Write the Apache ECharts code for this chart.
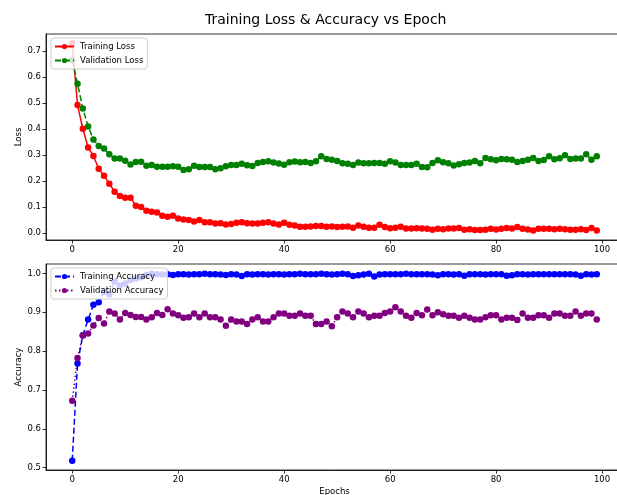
<!DOCTYPE html>
<html>
<head>
<meta charset="utf-8">
<script src="https://cdn.jsdelivr.net/npm/echarts@6/dist/echarts.min.js"></script>
<style>
html,body{margin:0;padding:0;background:#fff;}
#c{width:617px;height:495px;}
</style>
</head>
<body>
<div id="c"></div>
<script>
// ---- data ----
const epochs = Array.from({length: 100}, (_, i) => i);
const trainLoss = [0.729,0.492,0.401,0.329,0.296,0.247,0.220,0.190,0.159,0.143,
0.136,0.136,0.105,0.100,0.086,0.082,0.079,0.067,0.063,0.067,
0.056,0.052,0.050,0.045,0.050,0.042,0.042,0.037,0.038,0.033,
0.035,0.040,0.042,0.038,0.037,0.037,0.040,0.042,0.037,0.033,
0.040,0.032,0.029,0.024,0.024,0.025,0.027,0.027,0.024,0.025,
0.023,0.024,0.025,0.021,0.029,0.024,0.021,0.021,0.032,0.023,
0.019,0.021,0.024,0.018,0.018,0.019,0.018,0.017,0.013,0.017,
0.015,0.018,0.018,0.020,0.013,0.015,0.012,0.012,0.013,0.017,
0.014,0.017,0.020,0.018,0.023,0.017,0.014,0.010,0.017,0.017,
0.017,0.015,0.017,0.015,0.013,0.013,0.015,0.012,0.020,0.010];
const valLoss = [0.665,0.574,0.479,0.410,0.360,0.335,0.325,0.303,0.287,0.287,
0.278,0.264,0.273,0.274,0.259,0.262,0.255,0.255,0.255,0.257,
0.255,0.242,0.245,0.259,0.254,0.254,0.254,0.245,0.249,0.257,
0.262,0.262,0.266,0.261,0.258,0.269,0.273,0.276,0.271,0.267,
0.263,0.272,0.275,0.272,0.273,0.269,0.276,0.295,0.285,0.282,
0.277,0.268,0.266,0.262,0.271,0.268,0.268,0.269,0.269,0.266,
0.276,0.271,0.262,0.262,0.262,0.266,0.254,0.253,0.269,0.280,
0.272,0.268,0.260,0.265,0.269,0.271,0.277,0.268,0.289,0.284,
0.280,0.285,0.284,0.282,0.273,0.277,0.282,0.289,0.277,0.281,
0.295,0.284,0.288,0.299,0.285,0.287,0.287,0.303,0.282,0.295];
const trainAcc = [0.518,0.768,0.841,0.881,0.919,0.926,0.953,0.946,0.979,0.969,
0.974,0.983,0.987,0.990,0.996,0.999,0.998,0.997,0.998,0.996,
0.998,0.998,0.997,0.998,0.998,0.999,0.998,0.998,0.997,0.996,
0.998,0.997,0.993,0.998,0.997,0.998,0.998,0.997,0.998,0.998,
0.997,0.998,0.998,0.999,0.998,0.998,0.998,0.999,0.998,0.997,
0.998,0.999,0.998,0.993,0.995,0.997,0.999,0.992,0.997,0.998,
0.998,0.998,0.998,0.999,0.998,0.998,0.998,0.998,0.997,0.995,
0.998,0.998,0.997,0.998,0.994,0.998,0.998,0.998,0.997,0.998,
0.998,0.998,0.994,0.995,0.998,0.998,0.997,0.998,0.998,0.998,
0.998,0.998,0.998,0.998,0.998,0.997,0.994,0.998,0.997,0.998];
const valAcc = [0.672,0.782,0.840,0.845,0.866,0.885,0.871,0.902,0.897,0.881,
0.898,0.893,0.888,0.888,0.881,0.887,0.898,0.893,0.908,0.897,
0.892,0.886,0.887,0.897,0.887,0.897,0.887,0.887,0.881,0.865,
0.881,0.876,0.876,0.870,0.881,0.887,0.876,0.876,0.887,0.897,
0.897,0.891,0.891,0.897,0.891,0.891,0.870,0.870,0.876,0.864,
0.887,0.902,0.897,0.887,0.902,0.897,0.887,0.891,0.891,0.898,
0.902,0.913,0.902,0.891,0.886,0.898,0.892,0.907,0.892,0.900,
0.895,0.891,0.891,0.886,0.891,0.886,0.881,0.881,0.887,0.892,
0.892,0.881,0.886,0.886,0.880,0.897,0.886,0.886,0.892,0.892,
0.886,0.897,0.897,0.891,0.891,0.902,0.891,0.897,0.897,0.881];
const xTicks = [0, 20, 40, 60, 80, 100];
const lossTicks = [0.0, 0.1, 0.2, 0.3, 0.4, 0.5, 0.6, 0.7];
const accTicks = [0.5, 0.6, 0.7, 0.8, 0.9, 1.0];

// ---- chart ----
const FONT = 'DejaVu Sans';
const FS = 8.5;
const chart = echarts.init(document.getElementById('c'), null, {renderer: 'canvas'});
const pairs = arr => epochs.map((e, i) => [e, arr[i]]);

function xAxis(gridIndex, withName) {
  return {
    type: 'value', gridIndex, min: -4.95, max: 103.95,
    name: withName ? 'Epochs' : '', nameLocation: 'middle', nameGap: 17, nameMoveOverlap: false,
    nameTextStyle: {fontFamily: FONT, fontSize: FS, color: '#000'},
    axisLine: {show: true, onZero: false, lineStyle: {color: '#000', width: 0.8}},
    axisTick: {show: true, length: 3.5, customValues: xTicks, lineStyle: {color: '#000', width: 0.8}},
    axisLabel: {customValues: xTicks, fontFamily: FONT, fontSize: FS, color: '#000', margin: 5},
    splitLine: {show: false}
  };
}
function yAxis(gridIndex, name, min, max, ticks) {
  return {
    type: 'value', gridIndex, min, max,
    name, nameLocation: 'middle', nameGap: 23, nameRotate: 90, nameMoveOverlap: false,
    nameTextStyle: {fontFamily: FONT, fontSize: FS, color: '#000'},
    axisLine: {show: true, onZero: false, lineStyle: {color: '#000', width: 0.8}},
    axisTick: {show: true, length: 3.5, customValues: ticks, lineStyle: {color: '#000', width: 0.8}},
    axisLabel: {customValues: ticks, fontFamily: FONT, fontSize: FS, color: '#000', margin: 5,
      formatter: v => v.toFixed(1)},
    splitLine: {show: false}
  };
}
function line(name, data, color, type, xi) {
  return {
    name, type: 'line', xAxisIndex: xi, yAxisIndex: xi, data: pairs(data),
    symbol: 'circle', symbolSize: 6.5, showSymbol: true,
    itemStyle: {color, borderWidth: 0},
    lineStyle: {color, width: 1.5, type},
    emphasis: {disabled: true}, animation: false, z: 3
  };
}
const legendBase = {
  orient: 'vertical', left: 51, itemWidth: 19, itemHeight: 6.5, itemGap: 5,
  padding: [4, 4, 4, 3],
  backgroundColor: 'rgba(255,255,255,0.8)', borderColor: '#ccc', borderWidth: 1, borderRadius: 3,
  textStyle: {fontFamily: FONT, fontSize: FS, color: '#000', padding: [0, 0, 0, 1]}
};

chart.setOption({
  backgroundColor: '#fff',
  animation: false,
  title: {
    text: 'Training Loss & Accuracy vs Epoch', left: 200, top: 8,
    textStyle: {fontFamily: FONT, fontSize: 14, fontWeight: 'normal', color: '#000'}
  },
  grid: [
    {left: 46, top: 34, width: 577, height: 206, show: true, borderColor: '#000', borderWidth: 0.8, outerBoundsMode: 'none'},
    {left: 46, top: 264, width: 577, height: 206, show: true, borderColor: '#000', borderWidth: 0.8, outerBoundsMode: 'none'}
  ],
  legend: [
    Object.assign({}, legendBase, {top: 38, data: ['Training Loss', 'Validation Loss']}),
    Object.assign({}, legendBase, {top: 268, data: ['Training Accuracy', 'Validation Accuracy']})
  ],
  xAxis: [xAxis(0, false), xAxis(1, true)],
  yAxis: [yAxis(0, 'Loss', -0.0265, 0.765, lossTicks), yAxis(1, 'Accuracy', 0.4941, 1.0241, accTicks)],
  series: [
    line('Training Loss', trainLoss, '#ff0000', 'solid', 0),
    line('Validation Loss', valLoss, '#008000', [6, 3], 0),
    line('Training Accuracy', trainAcc, '#0000ff', [6, 3], 1),
    line('Validation Accuracy', valAcc, '#800080', [1.5, 2.5], 1)
  ]
});
</script>
</body>
</html>
